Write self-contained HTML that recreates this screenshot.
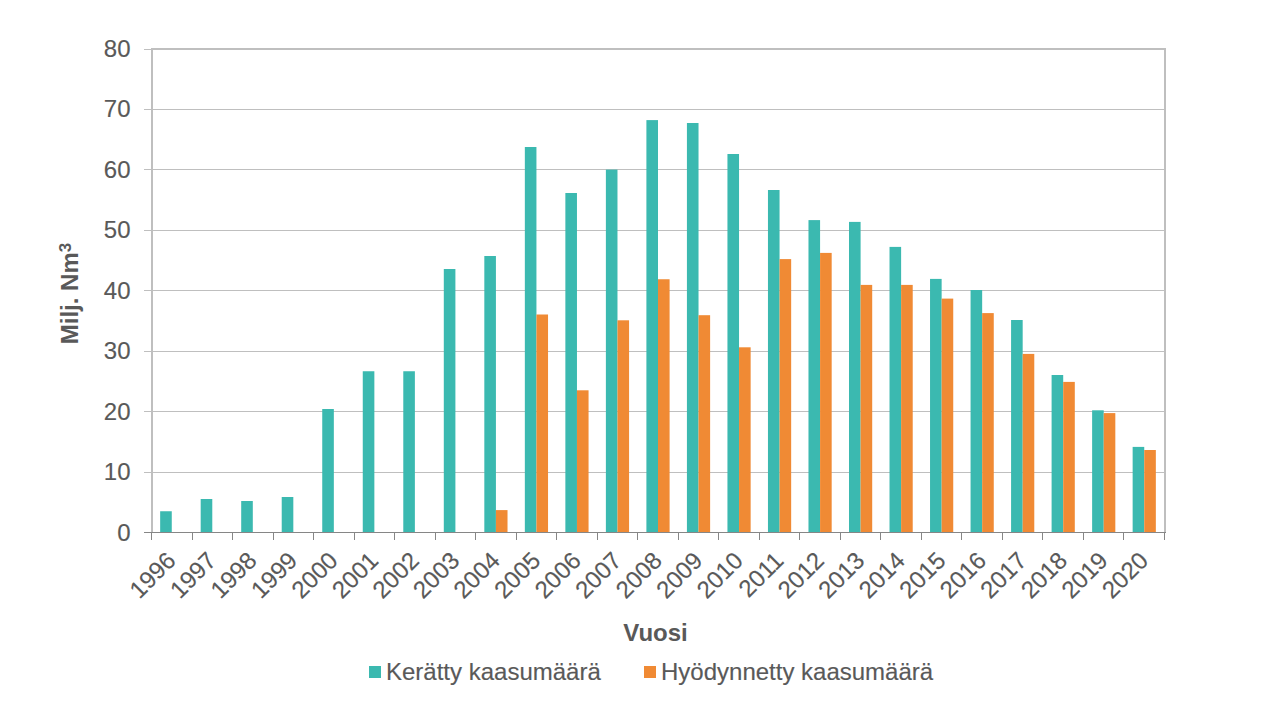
<!DOCTYPE html>
<html><head><meta charset="utf-8"><style>
html,body{margin:0;padding:0;background:#fff;width:1280px;height:720px;overflow:hidden}
svg{display:block}
.lab{font-family:"Liberation Sans",sans-serif;font-size:24px;fill:#595959;stroke:#595959;stroke-width:0.15px}
.rot,.leg{stroke-width:0.15px}
.ttl{font-family:"Liberation Sans",sans-serif;font-size:24px;font-weight:bold;fill:#595959}
</style></head><body>
<svg width="1280" height="720" viewBox="0 0 1280 720">
<rect width="1280" height="720" fill="#fff"/>
<rect x="152" y="472" width="1012" height="1" fill="#bfbfbf"/>
<rect x="152" y="411" width="1012" height="1" fill="#bfbfbf"/>
<rect x="152" y="351" width="1012" height="1" fill="#bfbfbf"/>
<rect x="152" y="290" width="1012" height="1" fill="#bfbfbf"/>
<rect x="152" y="230" width="1012" height="1" fill="#bfbfbf"/>
<rect x="152" y="169" width="1012" height="1" fill="#bfbfbf"/>
<rect x="152" y="109" width="1012" height="1" fill="#bfbfbf"/>
<rect x="144" y="472" width="8" height="1" fill="#bfbfbf"/>
<rect x="144" y="411" width="8" height="1" fill="#bfbfbf"/>
<rect x="144" y="351" width="8" height="1" fill="#bfbfbf"/>
<rect x="144" y="290" width="8" height="1" fill="#bfbfbf"/>
<rect x="144" y="230" width="8" height="1" fill="#bfbfbf"/>
<rect x="144" y="169" width="8" height="1" fill="#bfbfbf"/>
<rect x="144" y="109" width="8" height="1" fill="#bfbfbf"/>
<rect x="144" y="49" width="8" height="1" fill="#bfbfbf"/>
<rect x="160.16" y="511.25" width="11.60" height="20.75" fill="#3bb9b0"/>
<rect x="200.68" y="499.00" width="11.60" height="33.00" fill="#3bb9b0"/>
<rect x="241.20" y="501.00" width="11.60" height="31.00" fill="#3bb9b0"/>
<rect x="281.72" y="497.00" width="11.60" height="35.00" fill="#3bb9b0"/>
<rect x="322.24" y="409.00" width="11.60" height="123.00" fill="#3bb9b0"/>
<rect x="362.76" y="371.25" width="11.60" height="160.75" fill="#3bb9b0"/>
<rect x="403.28" y="371.25" width="11.60" height="160.75" fill="#3bb9b0"/>
<rect x="443.80" y="269.00" width="11.60" height="263.00" fill="#3bb9b0"/>
<rect x="484.32" y="256.00" width="11.60" height="276.00" fill="#3bb9b0"/>
<rect x="495.92" y="510.10" width="11.60" height="21.90" fill="#f08a34"/>
<rect x="524.84" y="147.00" width="11.60" height="385.00" fill="#3bb9b0"/>
<rect x="536.44" y="314.50" width="11.60" height="217.50" fill="#f08a34"/>
<rect x="565.36" y="193.00" width="11.60" height="339.00" fill="#3bb9b0"/>
<rect x="576.96" y="390.30" width="11.60" height="141.70" fill="#f08a34"/>
<rect x="605.88" y="169.60" width="11.60" height="362.40" fill="#3bb9b0"/>
<rect x="617.48" y="320.30" width="11.60" height="211.70" fill="#f08a34"/>
<rect x="646.40" y="120.10" width="11.60" height="411.90" fill="#3bb9b0"/>
<rect x="658.00" y="279.25" width="11.60" height="252.75" fill="#f08a34"/>
<rect x="686.92" y="123.00" width="11.60" height="409.00" fill="#3bb9b0"/>
<rect x="698.52" y="315.20" width="11.60" height="216.80" fill="#f08a34"/>
<rect x="727.44" y="154.00" width="11.60" height="378.00" fill="#3bb9b0"/>
<rect x="739.04" y="347.30" width="11.60" height="184.70" fill="#f08a34"/>
<rect x="767.96" y="190.00" width="11.60" height="342.00" fill="#3bb9b0"/>
<rect x="779.56" y="259.10" width="11.60" height="272.90" fill="#f08a34"/>
<rect x="808.48" y="220.10" width="11.60" height="311.90" fill="#3bb9b0"/>
<rect x="820.08" y="252.90" width="11.60" height="279.10" fill="#f08a34"/>
<rect x="849.00" y="221.90" width="11.60" height="310.10" fill="#3bb9b0"/>
<rect x="860.60" y="284.90" width="11.60" height="247.10" fill="#f08a34"/>
<rect x="889.52" y="246.90" width="11.60" height="285.10" fill="#3bb9b0"/>
<rect x="901.12" y="284.90" width="11.60" height="247.10" fill="#f08a34"/>
<rect x="930.04" y="278.90" width="11.60" height="253.10" fill="#3bb9b0"/>
<rect x="941.64" y="298.60" width="11.60" height="233.40" fill="#f08a34"/>
<rect x="970.56" y="290.00" width="11.60" height="242.00" fill="#3bb9b0"/>
<rect x="982.16" y="313.10" width="11.60" height="218.90" fill="#f08a34"/>
<rect x="1011.08" y="320.00" width="11.60" height="212.00" fill="#3bb9b0"/>
<rect x="1022.68" y="353.90" width="11.60" height="178.10" fill="#f08a34"/>
<rect x="1051.60" y="375.00" width="11.60" height="157.00" fill="#3bb9b0"/>
<rect x="1063.20" y="381.90" width="11.60" height="150.10" fill="#f08a34"/>
<rect x="1092.12" y="410.30" width="11.60" height="121.70" fill="#3bb9b0"/>
<rect x="1103.72" y="413.10" width="11.60" height="118.90" fill="#f08a34"/>
<rect x="1132.64" y="446.90" width="11.60" height="85.10" fill="#3bb9b0"/>
<rect x="1144.24" y="450.00" width="11.60" height="82.00" fill="#f08a34"/>
<rect x="151" y="48" width="1015" height="2" fill="#bfbfbf"/>
<rect x="151" y="48" width="2" height="484" fill="#bfbfbf"/>
<rect x="1164" y="48" width="2" height="484" fill="#bfbfbf"/>
<rect x="144" y="532" width="1022" height="1" fill="#868686"/>
<rect x="151" y="532" width="1" height="8" fill="#868686"/>
<rect x="192" y="532" width="1" height="8" fill="#868686"/>
<rect x="232" y="532" width="1" height="8" fill="#868686"/>
<rect x="273" y="532" width="1" height="8" fill="#868686"/>
<rect x="313" y="532" width="1" height="8" fill="#868686"/>
<rect x="354" y="532" width="1" height="8" fill="#868686"/>
<rect x="394" y="532" width="1" height="8" fill="#868686"/>
<rect x="435" y="532" width="1" height="8" fill="#868686"/>
<rect x="475" y="532" width="1" height="8" fill="#868686"/>
<rect x="516" y="532" width="1" height="8" fill="#868686"/>
<rect x="556" y="532" width="1" height="8" fill="#868686"/>
<rect x="597" y="532" width="1" height="8" fill="#868686"/>
<rect x="637" y="532" width="1" height="8" fill="#868686"/>
<rect x="678" y="532" width="1" height="8" fill="#868686"/>
<rect x="718" y="532" width="1" height="8" fill="#868686"/>
<rect x="759" y="532" width="1" height="8" fill="#868686"/>
<rect x="799" y="532" width="1" height="8" fill="#868686"/>
<rect x="840" y="532" width="1" height="8" fill="#868686"/>
<rect x="880" y="532" width="1" height="8" fill="#868686"/>
<rect x="921" y="532" width="1" height="8" fill="#868686"/>
<rect x="961" y="532" width="1" height="8" fill="#868686"/>
<rect x="1002" y="532" width="1" height="8" fill="#868686"/>
<rect x="1042" y="532" width="1" height="8" fill="#868686"/>
<rect x="1083" y="532" width="1" height="8" fill="#868686"/>
<rect x="1123" y="532" width="1" height="8" fill="#868686"/>
<rect x="1164" y="532" width="1" height="8" fill="#868686"/>
<text x="130.5" y="540.50" text-anchor="end" class="lab">0</text>
<text x="130.5" y="480.06" text-anchor="end" class="lab">10</text>
<text x="130.5" y="419.62" text-anchor="end" class="lab">20</text>
<text x="130.5" y="359.18" text-anchor="end" class="lab">30</text>
<text x="130.5" y="298.74" text-anchor="end" class="lab">40</text>
<text x="130.5" y="238.30" text-anchor="end" class="lab">50</text>
<text x="130.5" y="177.86" text-anchor="end" class="lab">60</text>
<text x="130.5" y="117.42" text-anchor="end" class="lab">70</text>
<text x="130.5" y="56.98" text-anchor="end" class="lab">80</text>
<text transform="translate(164.76,549.50) rotate(-45)" x="0" y="0" text-anchor="end" dominant-baseline="hanging" class="lab rot">1996</text>
<text transform="translate(205.28,549.50) rotate(-45)" x="0" y="0" text-anchor="end" dominant-baseline="hanging" class="lab rot">1997</text>
<text transform="translate(245.80,549.50) rotate(-45)" x="0" y="0" text-anchor="end" dominant-baseline="hanging" class="lab rot">1998</text>
<text transform="translate(286.32,549.50) rotate(-45)" x="0" y="0" text-anchor="end" dominant-baseline="hanging" class="lab rot">1999</text>
<text transform="translate(326.84,549.50) rotate(-45)" x="0" y="0" text-anchor="end" dominant-baseline="hanging" class="lab rot">2000</text>
<text transform="translate(367.36,549.50) rotate(-45)" x="0" y="0" text-anchor="end" dominant-baseline="hanging" class="lab rot">2001</text>
<text transform="translate(407.88,549.50) rotate(-45)" x="0" y="0" text-anchor="end" dominant-baseline="hanging" class="lab rot">2002</text>
<text transform="translate(448.40,549.50) rotate(-45)" x="0" y="0" text-anchor="end" dominant-baseline="hanging" class="lab rot">2003</text>
<text transform="translate(488.92,549.50) rotate(-45)" x="0" y="0" text-anchor="end" dominant-baseline="hanging" class="lab rot">2004</text>
<text transform="translate(529.44,549.50) rotate(-45)" x="0" y="0" text-anchor="end" dominant-baseline="hanging" class="lab rot">2005</text>
<text transform="translate(569.96,549.50) rotate(-45)" x="0" y="0" text-anchor="end" dominant-baseline="hanging" class="lab rot">2006</text>
<text transform="translate(610.48,549.50) rotate(-45)" x="0" y="0" text-anchor="end" dominant-baseline="hanging" class="lab rot">2007</text>
<text transform="translate(651.00,549.50) rotate(-45)" x="0" y="0" text-anchor="end" dominant-baseline="hanging" class="lab rot">2008</text>
<text transform="translate(691.52,549.50) rotate(-45)" x="0" y="0" text-anchor="end" dominant-baseline="hanging" class="lab rot">2009</text>
<text transform="translate(732.04,549.50) rotate(-45)" x="0" y="0" text-anchor="end" dominant-baseline="hanging" class="lab rot">2010</text>
<text transform="translate(772.56,549.50) rotate(-45)" x="0" y="0" text-anchor="end" dominant-baseline="hanging" class="lab rot">2011</text>
<text transform="translate(813.08,549.50) rotate(-45)" x="0" y="0" text-anchor="end" dominant-baseline="hanging" class="lab rot">2012</text>
<text transform="translate(853.60,549.50) rotate(-45)" x="0" y="0" text-anchor="end" dominant-baseline="hanging" class="lab rot">2013</text>
<text transform="translate(894.12,549.50) rotate(-45)" x="0" y="0" text-anchor="end" dominant-baseline="hanging" class="lab rot">2014</text>
<text transform="translate(934.64,549.50) rotate(-45)" x="0" y="0" text-anchor="end" dominant-baseline="hanging" class="lab rot">2015</text>
<text transform="translate(975.16,549.50) rotate(-45)" x="0" y="0" text-anchor="end" dominant-baseline="hanging" class="lab rot">2016</text>
<text transform="translate(1015.68,549.50) rotate(-45)" x="0" y="0" text-anchor="end" dominant-baseline="hanging" class="lab rot">2017</text>
<text transform="translate(1056.20,549.50) rotate(-45)" x="0" y="0" text-anchor="end" dominant-baseline="hanging" class="lab rot">2018</text>
<text transform="translate(1096.72,549.50) rotate(-45)" x="0" y="0" text-anchor="end" dominant-baseline="hanging" class="lab rot">2019</text>
<text transform="translate(1137.24,549.50) rotate(-45)" x="0" y="0" text-anchor="end" dominant-baseline="hanging" class="lab rot">2020</text>
<text x="655.5" y="640.5" text-anchor="middle" class="ttl">Vuosi</text>
<text transform="translate(78,293.5) rotate(-90)" x="0" y="0" text-anchor="middle" class="ttl">Milj. Nm<tspan font-size="17" dy="-7.5">3</tspan></text>
<rect x="369" y="666" width="12" height="12" fill="#3bb9b0"/>
<text x="386" y="680" class="lab leg">Kerätty kaasumäärä</text>
<rect x="644" y="666" width="12" height="12" fill="#f08a34"/>
<text x="661" y="680" class="lab leg">Hyödynnetty kaasumäärä</text>
</svg>
</body></html>
